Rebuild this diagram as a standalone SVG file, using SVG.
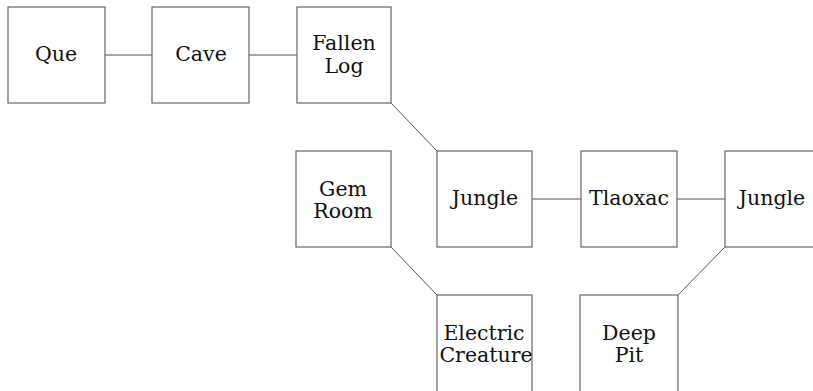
<svg xmlns="http://www.w3.org/2000/svg" width="813" height="391" viewBox="0 0 813 391">
<style>
.box{fill:#fff;stroke:#666;stroke-width:1.2}
.lbl{font-family:"DejaVu Serif","Liberation Serif",serif;font-size:20.5px;fill:#111;text-anchor:middle}
.edge{stroke:#555;stroke-width:1;fill:none}
</style>
<defs><clipPath id="clipE"><rect x="437" y="295" width="95" height="100"/></clipPath></defs>
<rect width="813" height="391" fill="#fff"/>
<g id="connectors">
<line class="edge" x1="105" y1="55" x2="152" y2="55"/>
<line class="edge" x1="249" y1="55" x2="297" y2="55"/>
<line class="edge" x1="391" y1="103" x2="437" y2="151"/>
<line class="edge" x1="532" y1="199" x2="581" y2="199"/>
<line class="edge" x1="677" y1="199" x2="725" y2="199"/>
<line class="edge" x1="391" y1="247" x2="437" y2="295"/>
<line class="edge" x1="725" y1="247" x2="678" y2="295"/>
</g>
<g id="que"><rect class="box" x="8" y="7" width="97" height="96"/><text class="lbl" x="56" y="61">Que</text></g>
<g id="cave"><rect class="box" x="152" y="7" width="97" height="96"/><text class="lbl" x="201" y="61">Cave</text></g>
<g id="fallenlog"><rect class="box" x="297" y="7" width="94" height="96"/><text class="lbl" x="344" y="50">Fallen</text><text class="lbl" x="344" y="73">Log</text></g>
<g id="gemroom"><rect class="box" x="296" y="151" width="95" height="96"/><text class="lbl" x="343" y="196">Gem</text><text class="lbl" x="343" y="218">Room</text></g>
<g id="jungle1"><rect class="box" x="437" y="151" width="95" height="96"/><text class="lbl" x="485" y="205">Jungle</text></g>
<g id="tlaoxac"><rect class="box" x="581" y="151" width="96" height="96"/><text class="lbl" x="629" y="205">Tlaoxac</text></g>
<g id="jungle2"><rect class="box" x="725" y="151" width="96" height="96"/><text class="lbl" x="772" y="205">Jungle</text></g>
<g id="electric"><rect class="box" x="437" y="295" width="95" height="100"/><g clip-path="url(#clipE)"><text class="lbl" x="484" y="340">Electric</text><text class="lbl" x="486" y="362">Creature</text></g></g>
<g id="deeppit"><rect class="box" x="580" y="295" width="98" height="100"/><text class="lbl" x="629" y="340">Deep</text><text class="lbl" x="629" y="362">Pit</text></g>
</svg>
